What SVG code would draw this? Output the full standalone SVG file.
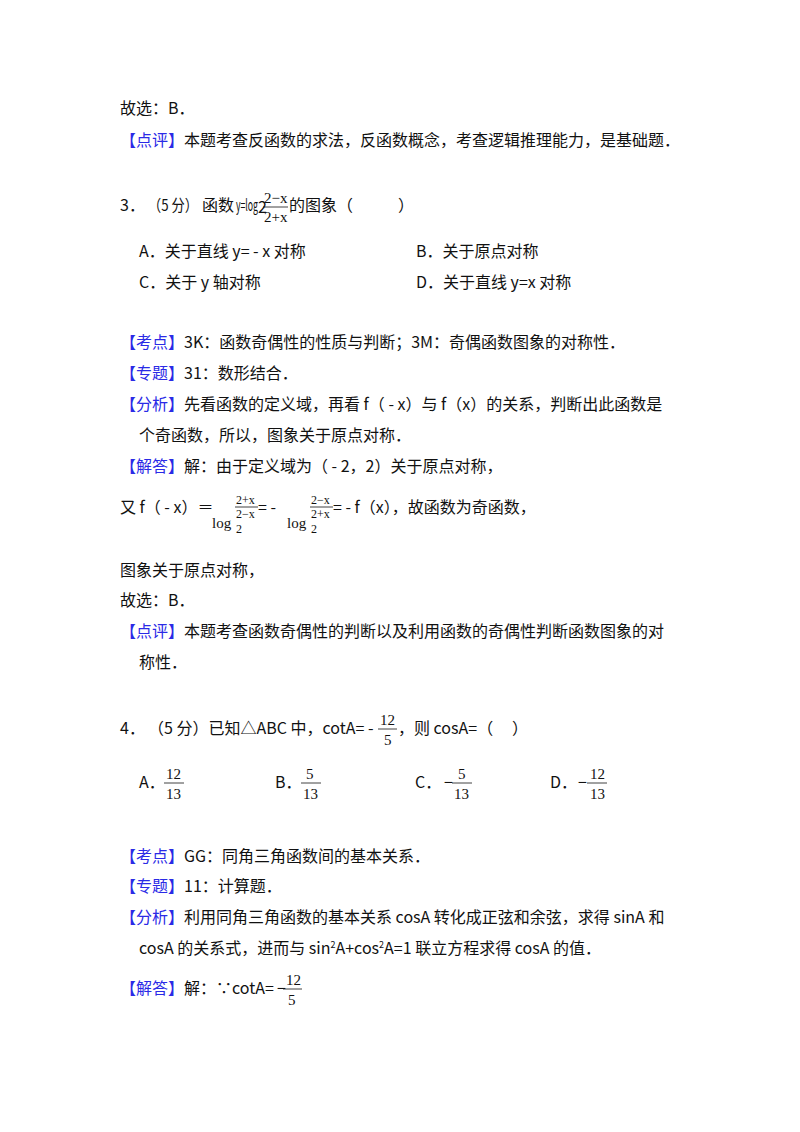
<svg xmlns="http://www.w3.org/2000/svg" width="800" height="1132" viewBox="0 0 800 1132">
<style>
text{font-family:"Noto Sans CJK SC","Noto Sans",sans-serif;font-size:16px;fill:#111}
.b{fill:#2a2ae6}
.m{font-family:"Liberation Serif",serif;font-size:15px}
.s{font-family:"Liberation Serif",serif;font-size:12px}
line{stroke:#111;stroke-width:0.8}
</style>
<rect width="800" height="1132" fill="#fff"/>
<g id="p1">
<text x="120" y="114">故选：B．</text>
<text x="120" y="146"><tspan class="b">【点评】</tspan>本题考查反函数的求法，反函数概念，考查逻辑推理能力，是基础题．</text>
</g>
<g id="q3">
<text x="120" y="211">3．</text>
<text x="148" y="211" textLength="50" lengthAdjust="spacingAndGlyphs">（5 分）</text>
<text x="202" y="211">函数</text>
<text x="236" y="211" font-size="14" textLength="22" lengthAdjust="spacingAndGlyphs">y=log</text>
<text x="258" y="213" font-size="8">2</text>
<text class="m" x="264" y="203">2−x</text><line x1="263" y1="207" x2="288" y2="207"/><text class="m" x="264" y="222">2+x</text>
<text x="289" y="211">的图象（</text>
<text x="398" y="211">）</text>
<text x="139" y="257">A．关于直线 y= - x 对称</text>
<text x="416" y="257">B．关于原点对称</text>
<text x="139" y="288">C．关于 y 轴对称</text>
<text x="416" y="288">D．关于直线 y=x 对称</text>
<text x="120" y="348"><tspan class="b">【考点】</tspan>3K：函数奇偶性的性质与判断；3M：奇偶函数图象的对称性．</text>
<text x="120" y="379"><tspan class="b">【专题】</tspan>31：数形结合．</text>
<text x="120" y="410"><tspan class="b">【分析】</tspan>先看函数的定义域，再看 f（ - x）与 f（x）的关系，判断出此函数是</text>
<text x="139" y="441">个奇函数，所以，图象关于原点对称．</text>
<text x="120" y="472"><tspan class="b">【解答】</tspan>解：由于定义域为（ - 2，2）关于原点对称，</text>
<text x="120" y="513">又 f（ - x）＝</text>
<text class="s" x="236" y="504">2+x</text><line x1="235" y1="507" x2="258" y2="507"/>
<text class="m" x="212" y="528">log</text><text class="s" x="236" y="518">2−x</text><text class="s" x="236" y="533">2</text>
<text x="258" y="513">= -</text>
<text class="s" x="311" y="504">2−x</text><line x1="310" y1="507" x2="333" y2="507"/>
<text class="m" x="287" y="528">log</text><text class="s" x="311" y="518">2+x</text><text class="s" x="311" y="533">2</text>
<text x="333" y="513">= - f（x），故函数为奇函数，</text>
<text x="120" y="576">图象关于原点对称，</text>
<text x="120" y="606">故选：B．</text>
<text x="120" y="637"><tspan class="b">【点评】</tspan>本题考查函数奇偶性的判断以及利用函数的奇偶性判断函数图象的对</text>
<text x="139" y="668">称性．</text>
</g>
<g id="q4">
<text x="120" y="734">4．</text>
<text x="148" y="734">（5 分）已知△ABC 中，cotA= -</text>
<text class="m" x="380" y="725">12</text><line x1="378" y1="729" x2="397" y2="729"/><text class="m" x="384" y="745">5</text>
<text x="398" y="734">，则 cosA=（</text>
<text x="512" y="734">）</text>
<text x="139" y="788">A．</text>
<text class="m" x="166" y="779">12</text><line x1="164" y1="783" x2="184" y2="783"/><text class="m" x="166" y="799">13</text>
<text x="275" y="788">B．</text>
<text class="m" x="306" y="779">5</text><line x1="301" y1="783" x2="321" y2="783"/><text class="m" x="303" y="799">13</text>
<text x="415" y="788">C．</text>
<text x="444" y="788">−</text>
<text class="m" x="458" y="779">5</text><line x1="452" y1="783" x2="472" y2="783"/><text class="m" x="454" y="799">13</text>
<text x="550" y="788">D．</text>
<text x="578" y="788">−</text>
<text class="m" x="590" y="779">12</text><line x1="587" y1="783" x2="607" y2="783"/><text class="m" x="590" y="799">13</text>
<text x="120" y="862"><tspan class="b">【考点】</tspan>GG：同角三角函数间的基本关系．</text>
<text x="120" y="892"><tspan class="b">【专题】</tspan>11：计算题．</text>
<text x="120" y="923"><tspan class="b">【分析】</tspan>利用同角三角函数的基本关系 cosA 转化成正弦和余弦，求得 sinA 和</text>
<text x="139" y="954">cosA 的关系式，进而与 sin<tspan font-size="9" dy="-6">2</tspan><tspan dy="6">A+cos</tspan><tspan font-size="9" dy="-6">2</tspan><tspan dy="6">A=1 联立方程求得 cosA 的值．</tspan></text>
<text x="120" y="994"><tspan class="b">【解答】</tspan>解：∵cotA=</text>
<text x="277" y="994">−</text>
<text class="m" x="286" y="985">12</text><line x1="283" y1="989" x2="302" y2="989"/><text class="m" x="288" y="1005">5</text>
</g>
</svg>
